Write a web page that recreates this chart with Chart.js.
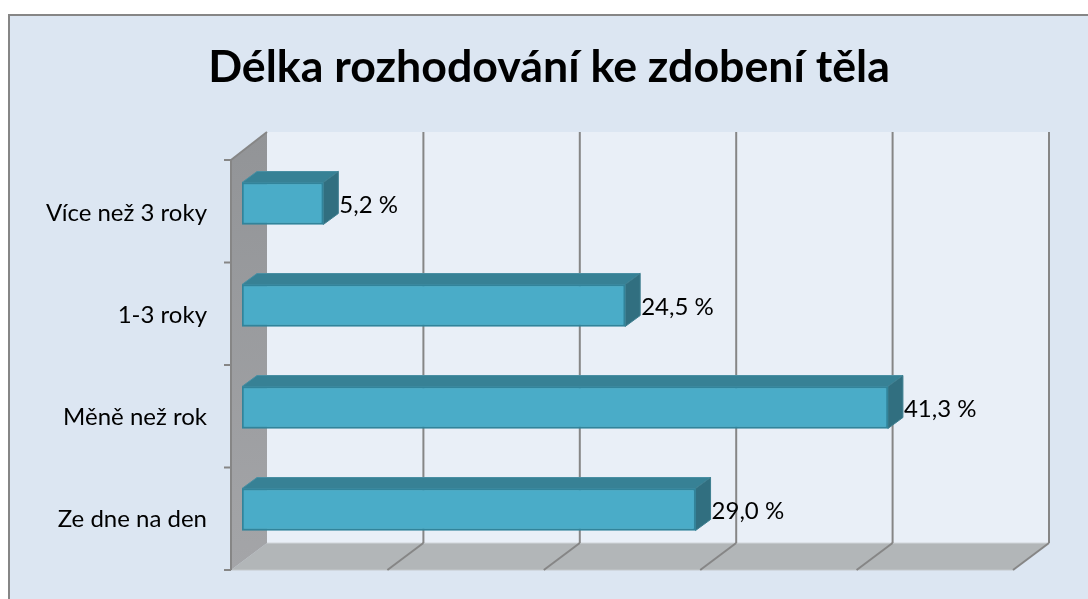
<!DOCTYPE html>
<html><head><meta charset="utf-8">
<script src="https://cdn.jsdelivr.net/npm/chart.js@4"></script>
<style>html,body{margin:0;padding:0;background:#fff;overflow:hidden;width:1088px;height:599px}canvas{display:block}</style>
</head><body><canvas id="c" width="1098" height="599" style="width:1098px;height:599px"></canvas>
<script>
const categories = ["Více než 3 roky", "1-3 roky", "Měně než rok", "Ze dne na den"];
const values = [5.2, 24.5, 41.3, 29.0];
const valueLabels = ["5,2 %", "24,5 %", "41,3 %", "29,0 %"];
const titleText = "Délka rozhodování ke zdobení těla";

const FONT = "Lato, Carlito, 'Open Sans', sans-serif";
const EDGE = "#868686";

function poly(ctx, pts, fill, stroke, lw) {
  ctx.beginPath();
  pts.forEach((p, i) => i ? ctx.lineTo(p[0], p[1]) : ctx.moveTo(p[0], p[1]));
  ctx.closePath();
  if (fill) { ctx.fillStyle = fill; ctx.fill(); }
  if (stroke) { ctx.strokeStyle = stroke; ctx.lineWidth = lw || 1; ctx.stroke(); }
}
function line(ctx, x1, y1, x2, y2, c, w) {
  ctx.beginPath(); ctx.moveTo(x1, y1); ctx.lineTo(x2, y2);
  ctx.strokeStyle = c; ctx.lineWidth = w; ctx.stroke();
}

const scene = {
  id: "scene",
  beforeDraw(chart) {
    const { ctx, scales: { x }, chartArea: a } = chart;
    ctx.save();
    ctx.fillStyle = "#fff"; ctx.fillRect(0, 0, chart.width, chart.height);
    ctx.fillStyle = "#DCE6F2"; ctx.fillRect(9, 15, chart.width, chart.height);
    ctx.strokeStyle = EDGE; ctx.lineWidth = 2; ctx.strokeRect(9, 15, chart.width + 20, chart.height + 20);

    const fl = x.getPixelForValue(0) - 11, fr = x.getPixelForValue(50) - 11;
    const bl = x.getPixelForValue(0) + 25, br = x.getPixelForValue(50) + 25;
    const ft = a.top + 7.5, fb = a.bottom + 9.5, bt = a.top - 20.5, bb = a.bottom - 17.5;

    // back wall
    ctx.fillStyle = "#E9EFF7"; ctx.fillRect(bl, bt, br - bl, bb - bt);
    // floor
    poly(ctx, [[fl, fb], [bl, bb], [br, bb], [fr, fb]], "#B2B6B8");
    line(ctx, bl, bb, br, bb, "#D0D5D9", 1);
    line(ctx, fl, fb, fr, fb, "#C4C8CB", 1);
    // left wall
    const g = ctx.createLinearGradient(0, bt, 0, fb);
    g.addColorStop(0, "#929497"); g.addColorStop(1, "#A4A5A8");
    poly(ctx, [[fl, ft], [bl, bt], [bl, bb], [fl, fb]], g);
    line(ctx, fl, ft, bl, bt, EDGE, 2);
    line(ctx, fl, ft, fl, fb, EDGE, 2);
    // gridlines
    x.ticks.forEach(t => {
      const px = x.getPixelForValue(t.value);
      if (t.value > 0) {
        line(ctx, px + 25, bt, px + 25, bb, EDGE, 2);
        line(ctx, px + 25, bb, px - 11, fb, EDGE, 2);
      }
    });
    // category ticks on the front edge
    const n = categories.length;
    for (let i = 0; i <= n; i++) {
      const y = ft + (fb - ft) * i / n;
      line(ctx, fl - 7, y, fl, y, EDGE, 2);
    }
    ctx.restore();
  },
  beforeDatasetsDraw(chart) {
    const { ctx } = chart;
    const dx = 15, dy = -11;
    ctx.save();
    chart.getDatasetMeta(0).data.forEach(b => {
      const l = b.base, r = b.x, t = b.y - b.height / 2, bo = b.y + b.height / 2;
      poly(ctx, [[l, t], [l + dx, t + dy], [r + dx, t + dy], [r, t]], "#378195", "#4A8FA3", 1);
      poly(ctx, [[r, t], [r + dx, t + dy], [r + dx, bo + dy], [r, bo]], "#316F80", "#3F7F90", 1);
    });
    ctx.restore();
  },
  afterDatasetsDraw(chart) {
    const { ctx } = chart;
    ctx.save();
    ctx.fillStyle = "#000"; ctx.font = "24px " + FONT;
    ctx.textAlign = "left"; ctx.textBaseline = "middle";
    chart.getDatasetMeta(0).data.forEach((b, i) => {
      ctx.fillText(valueLabels[i], b.x + 16, b.y + 1.5);
    });
    ctx.restore();
  }
};

new Chart(document.getElementById("c"), {
  type: "bar",
  data: { labels: categories, datasets: [{
    data: values, backgroundColor: "#4AACC8", borderColor: "#31849B",
    borderWidth: 2, borderSkipped: false, barThickness: 42
  }]},
  plugins: [scene],
  options: {
    indexAxis: "y", responsive: false, animation: false,
    layout: { padding: { left: 0, right: 0, top: 0, bottom: 38.5 } },
    plugins: {
      legend: { display: false }, tooltip: { enabled: false },
      title: { display: true, text: titleText, color: "#000", align: "center",
        font: { family: FONT, size: 44.7, weight: "bold", lineHeight: 1 },
        padding: { top: 45, bottom: 62.8 } }
    },
    scales: {
      x: { display: false, min: 0, max: 50, ticks: { stepSize: 10 }, grid: { display: false } },
      y: {
        grid: { display: false, drawTicks: false }, border: { display: false },
        afterFit(s) { s.width = 242; s.paddingTop = 0; s.paddingBottom = 0; },
        ticks: { color: "#000", font: { family: FONT, size: 24 }, padding: 35, labelOffset: 10 }
      },
      spacer: {
        type: "category", position: "right", labels: [""],
        grid: { display: false, drawTicks: false }, border: { display: false },
        ticks: { display: false },
        afterFit(s) { s.width = 74; s.paddingTop = 0; s.paddingBottom = 0; }
      }
    }
  }
});
</script></body></html>
